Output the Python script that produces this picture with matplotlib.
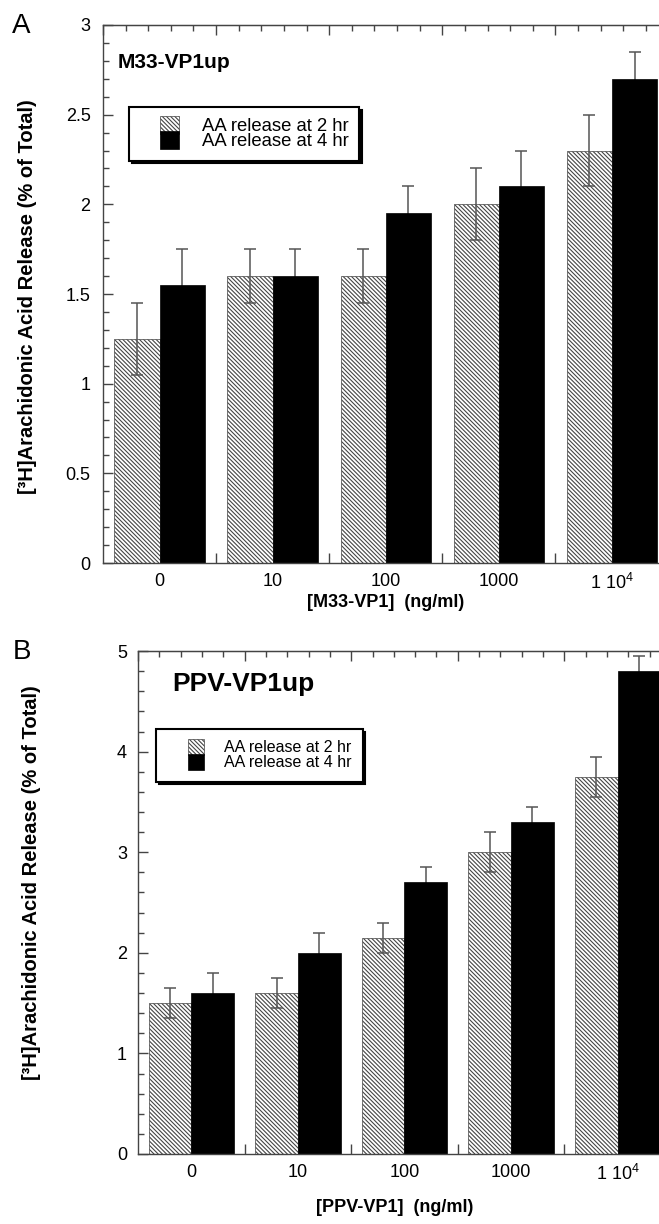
import numpy as np
import matplotlib
matplotlib.use("Agg")
from matplotlib import pyplot as plt
from matplotlib.patches import Patch, Rectangle
from matplotlib.legend_handler import HandlerPatch
from matplotlib.ticker import FixedLocator, MultipleLocator, FormatStrFormatter

plt.rcParams['font.family'] = ['Liberation Sans', 'DejaVu Sans']
plt.rcParams['mathtext.fontset'] = 'custom'
plt.rcParams['mathtext.rm'] = 'Liberation Sans'
plt.rcParams['mathtext.default'] = 'regular'
plt.rcParams['hatch.linewidth'] = 0.8

# data
doses = ['0', '10', '100', '1000', '1 10$^4$']
series_names = ['AA release at 2 hr', 'AA release at 4 hr']

m33_2hr = [1.25, 1.6, 1.6, 2.0, 2.3]
m33_2hr_err = [0.2, 0.15, 0.15, 0.2, 0.2]
m33_4hr = [1.55, 1.6, 1.95, 2.1, 2.7]
m33_4hr_err = [0.2, 0.15, 0.15, 0.2, 0.15]

ppv_2hr = [1.5, 1.6, 2.15, 3.0, 3.75]
ppv_2hr_err = [0.15, 0.15, 0.15, 0.2, 0.2]
ppv_4hr = [1.6, 2.0, 2.7, 3.3, 4.8]
ppv_4hr_err = [0.2, 0.2, 0.15, 0.15, 0.15]

HATCH = '\\' * 8
AXCOL = '#444444'


def box_patch(legend, orig_handle, xdescent, ydescent, width, height, fontsize):
    w = 1.02 * fontsize
    return Rectangle((-xdescent + width - w, -ydescent - 1), w, height + 2)


def draw_panel(ax, v2, e2, v4, e4, ymax, ymajor, yminor, title, title_size,
               title_pos, leg_pos, leg_size, leg_len, leg_space, leg_pad,
               xlabel, xlabel_pos, ylabel_pos, ypad):
    x = np.arange(len(doses))
    ax.bar(x - 0.2, v2, width=0.4, facecolor='white', edgecolor=AXCOL,
           hatch=HATCH, linewidth=0.5, zorder=2)
    ax.bar(x + 0.2, v4, width=0.4, facecolor='black', edgecolor='black',
           linewidth=0.5, zorder=2)
    ax.errorbar(x - 0.2, v2, yerr=e2, fmt='none', ecolor='#555555',
                elinewidth=1.1, capsize=4.5, capthick=1.1, zorder=3)
    # lower half of the 4 hr error bars sits behind the black bar
    ax.errorbar(x + 0.2, v4, yerr=e4, fmt='none', ecolor='#555555',
                elinewidth=1.1, capsize=4.5, capthick=1.1, zorder=1.5)

    ax.set_xlim(-0.5, 4.5)
    ax.set_ylim(0, ymax)
    ax.set_axisbelow(True)

    for s in ax.spines.values():
        s.set_color(AXCOL)
        s.set_linewidth(1.0)

    ax.set_xticks(x, doses)
    ax.xaxis.set_minor_locator(FixedLocator(np.arange(0.5, 4.0, 1.0)))
    ax.tick_params(axis='x', which='major', length=0, labelsize=13, pad=7)
    ax.tick_params(axis='x', which='minor', direction='in', length=7,
                   width=1.0, color=AXCOL)

    ax.yaxis.set_major_locator(MultipleLocator(ymajor))
    ax.yaxis.set_minor_locator(MultipleLocator(yminor))
    ax.yaxis.set_major_formatter(FormatStrFormatter('%g'))
    ax.tick_params(axis='y', which='major', direction='in', length=7,
                   width=1.0, color=AXCOL, labelsize=13, pad=ypad)
    ax.tick_params(axis='y', which='minor', direction='in', length=4,
                   width=1.0, color=AXCOL)

    top = ax.secondary_xaxis('top')
    top.set_xticks(np.arange(-0.5, 4.6, 1.0))
    top.xaxis.set_minor_locator(FixedLocator(np.arange(-0.5, 4.6, 0.2)))
    top.tick_params(axis='x', which='major', direction='in', length=7,
                    width=1.0, color=AXCOL, labeltop=False)
    top.tick_params(axis='x', which='minor', direction='in', length=4,
                    width=1.0, color=AXCOL)
    top.spines['top'].set_color(AXCOL)

    ax.set_xlabel(xlabel, fontsize=13, fontweight='bold')
    ax.xaxis.set_label_coords(*xlabel_pos)
    ax.set_ylabel('[³H]Arachidonic Acid Release (% of Total)', fontsize=14.5,
                  fontweight='bold')
    ax.yaxis.set_label_coords(*ylabel_pos)

    ax.text(title_pos[0], title_pos[1], title, transform=ax.transAxes,
            fontsize=title_size, fontweight='bold', va='center', ha='left')

    handles = [Patch(facecolor='white', edgecolor=AXCOL, hatch=HATCH, linewidth=0.5),
               Patch(facecolor='black', edgecolor='black', linewidth=0.5)]
    leg = ax.legend(handles, series_names, loc='upper left', bbox_to_anchor=leg_pos,
                    borderaxespad=0, fontsize=leg_size, handlelength=leg_len,
                    handleheight=0.9, labelspacing=leg_space, handletextpad=1.25,
                    borderpad=leg_pad, fancybox=False, framealpha=1,
                    edgecolor='black', shadow={'color': 'black', 'alpha': 1},
                    handler_map={Patch: HandlerPatch(patch_func=box_patch)})
    leg.get_frame().set_linewidth(1.5)
    leg.set_zorder(5)


fig = plt.figure(figsize=(6.59, 12.24), dpi=100)
axA = fig.add_axes([0.1563, 0.540, 0.8581, 0.4396])
axB = fig.add_axes([0.2094, 0.0572, 0.8088, 0.4109])

draw_panel(axA, m33_2hr, m33_2hr_err, m33_4hr, m33_4hr_err, 3, 0.5, 0.1,
           'M33-VP1up', 15, (0.025, 0.931), (0.046, 0.8476), 13.3, 2.15,
           -0.15, 0.55,
           '[M33-VP1]  (ng/ml)', (0.5, -0.058), (-0.117, 0.496), 9)
draw_panel(axB, ppv_2hr, ppv_2hr_err, ppv_4hr, ppv_4hr_err, 5, 1, 0.2,
           'PPV-VP1up', 19, (0.064, 0.934), (0.034, 0.845), 11.5, 2.3,
           0.0, 0.7,
           '[PPV-VP1]  (ng/ml)', (0.482, -0.09), (-0.182, 0.54), 8)

fig.text(12 / 659, 0.9788, 'A', fontsize=20, va='center', ha='left')
fig.text(13 / 659, 0.4673, 'B', fontsize=20, va='center', ha='left')

fig.savefig('out.png', dpi=100)
